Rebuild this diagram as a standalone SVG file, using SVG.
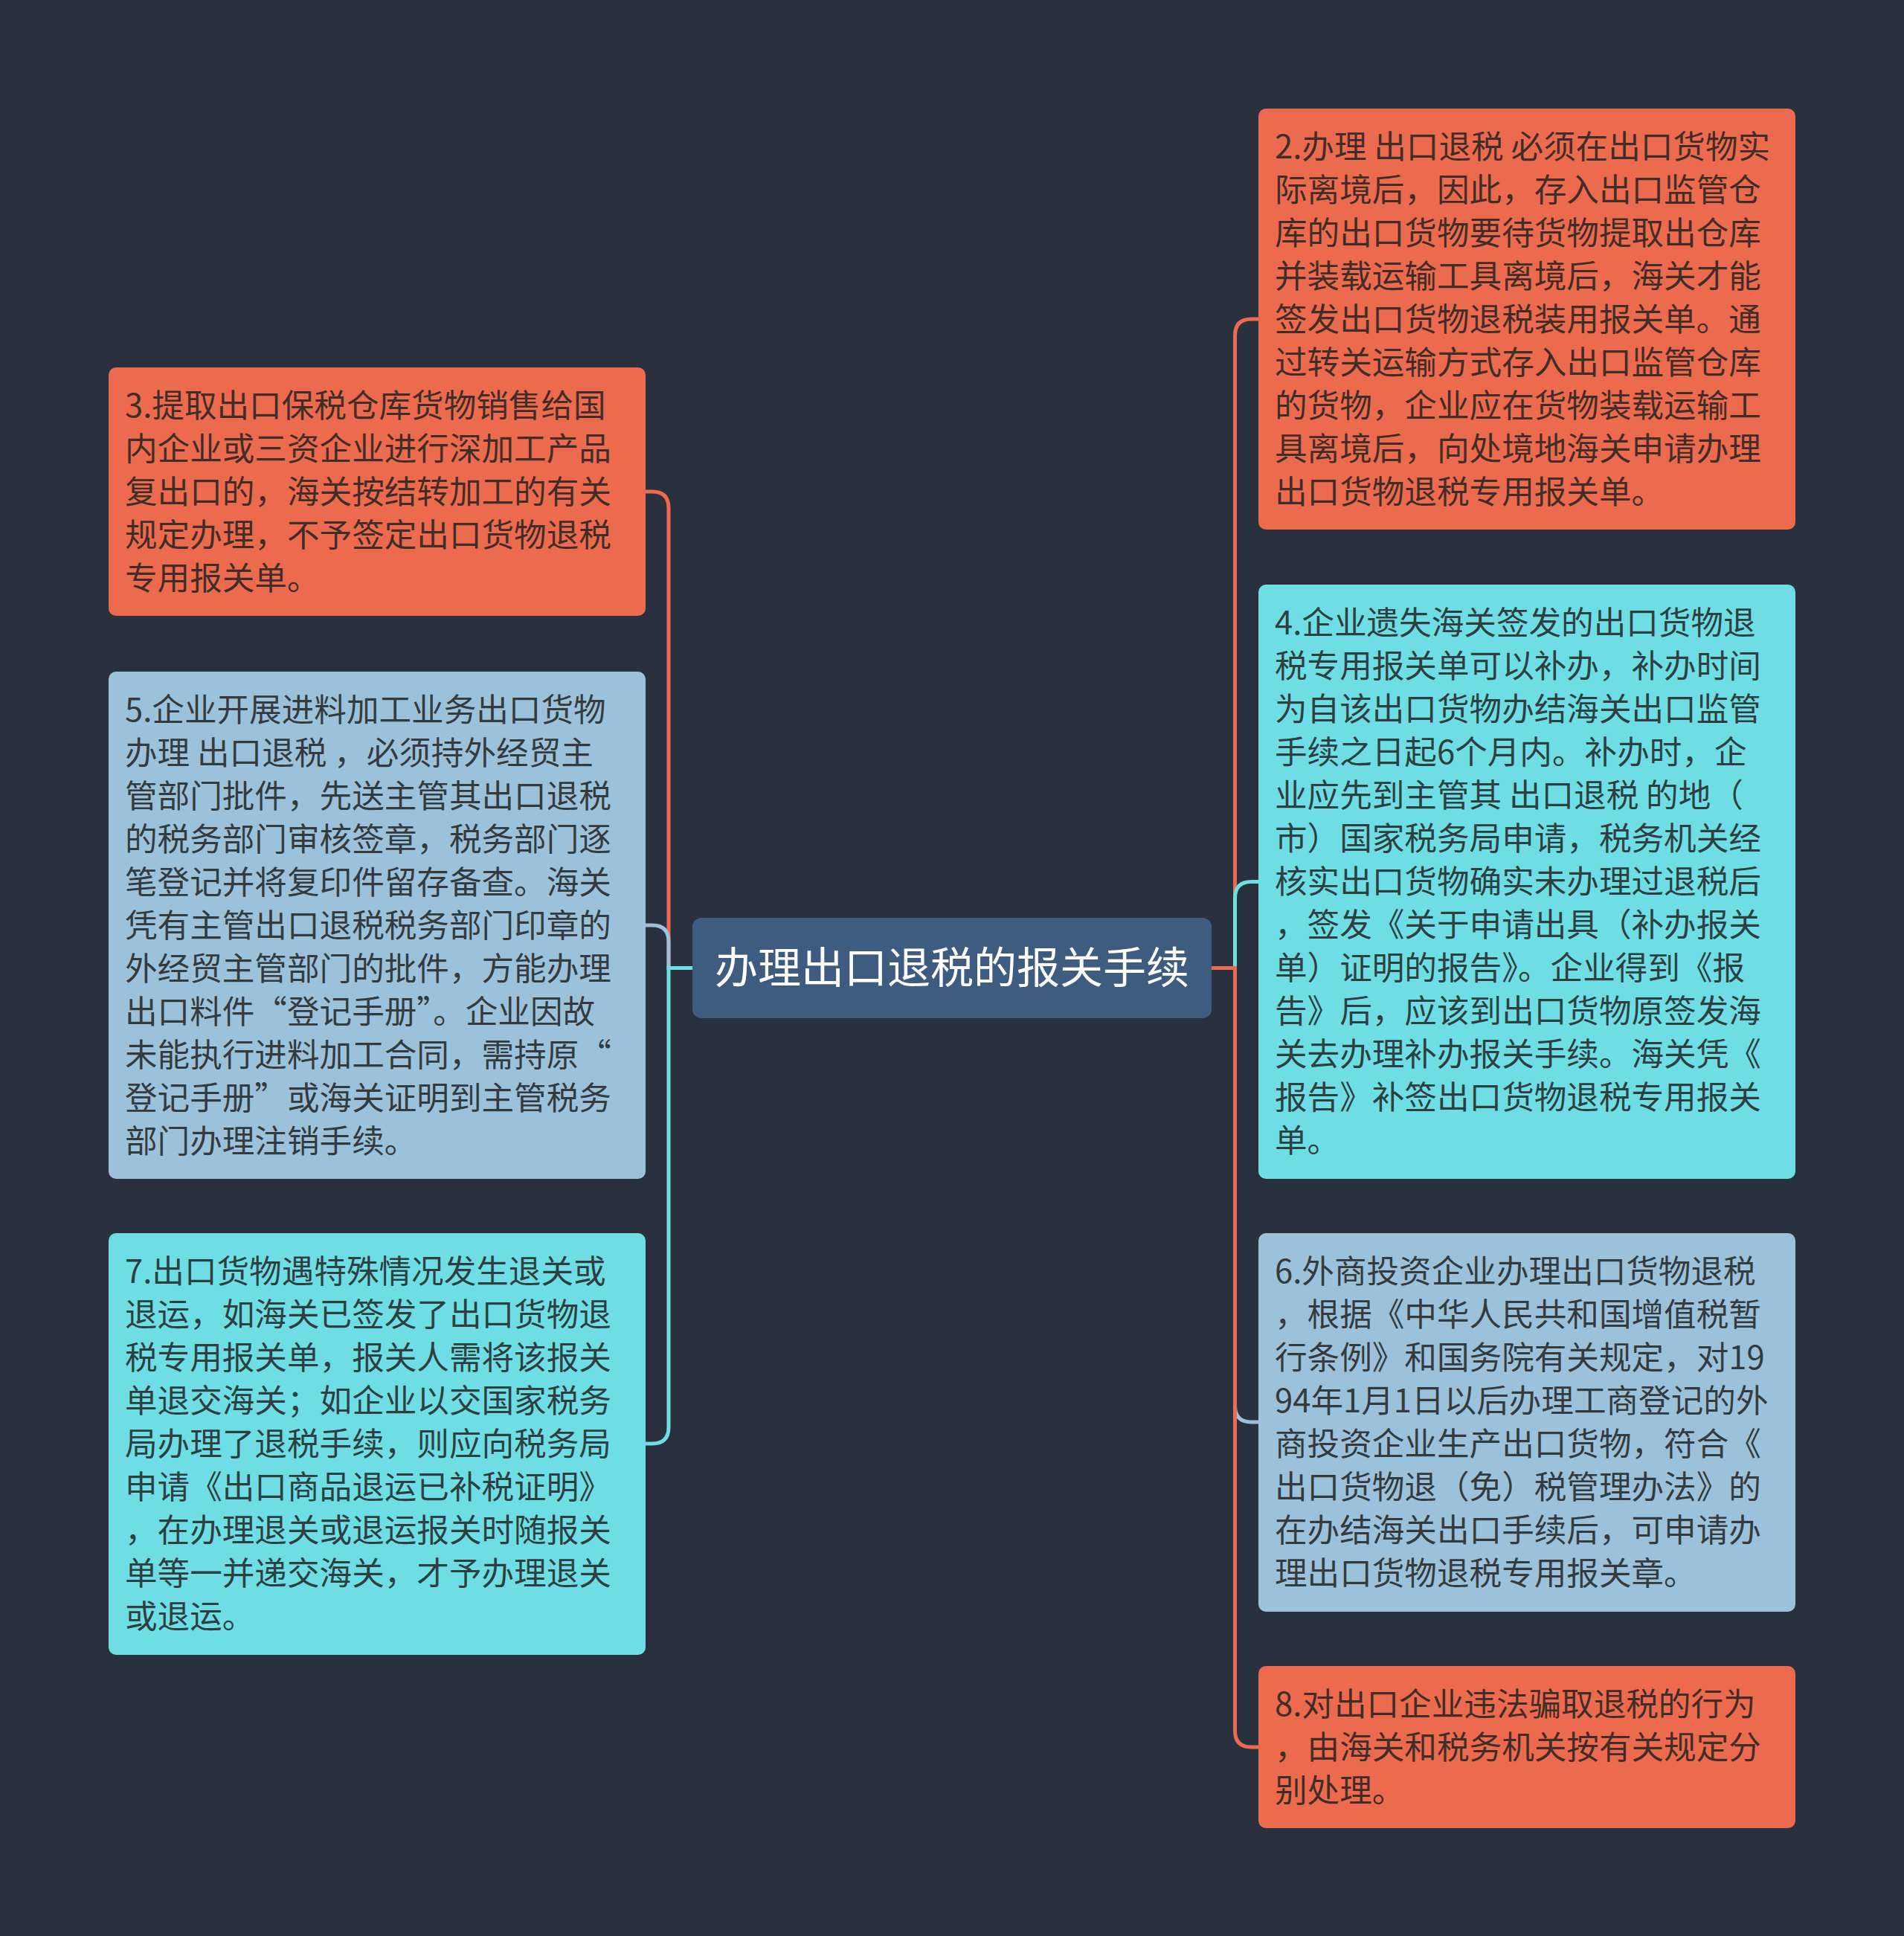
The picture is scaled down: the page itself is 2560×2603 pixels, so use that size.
<svg xmlns="http://www.w3.org/2000/svg" width="2560" height="2603" viewBox="0 0 2560 2603">
<style>
.bg{fill:#29303e}
.t{font-family:"Noto Sans CJK SC","Noto Sans",sans-serif;font-size:43.6px;fill:#222;fill-opacity:.86}
.ct{font-family:"Noto Sans CJK SC","Noto Sans",sans-serif;font-size:58px;fill:#ffffff}
.or{fill:#ec6a4d}.cy{fill:#6edee4}.lb{fill:#9bc2da}.cn{fill:#3e5b80}
.ln{fill:none;stroke-width:5}
.lo{stroke:#ec6a4d}.lc{stroke:#6edee4}.ll{stroke:#9bc2da}
</style>
<rect class="bg" x="0" y="0" width="2560" height="2603"/>
<g id="connectors">
<path class="ln lo" d="M1629 1301.5 H1660.5 V451 Q1660.5 429 1682.5 429 H1694"/>
<path class="ln lc" d="M1629 1301.5 H1660.5 V1207.5 Q1660.5 1185.5 1682.5 1185.5 H1694"/>
<path class="ln ll" d="M1629 1301.5 H1660.5 V1890 Q1660.5 1912 1682.5 1912 H1694"/>
<path class="ln lo" d="M1629 1301.5 H1660.5 V2327 Q1660.5 2349 1682.5 2349 H1694"/>
<path class="ln lo" d="M931 1301.5 H899 V683 Q899 661 877 661 H866"/>
<path class="ln ll" d="M931 1301.5 H899 V1266 Q899 1244 877 1244 H866"/>
<path class="ln lc" d="M931 1301.5 H899 V1919 Q899 1941 877 1941 H866"/>
</g>
<g id="center">
<rect class="cn" x="931" y="1234" width="698" height="135" rx="12"/>
<text class="ct" x="1280" y="1322" text-anchor="middle">办理出口退税的报关手续</text>
</g>
<g id="node2">
<rect class="or" x="1692" y="146" width="722" height="566" rx="10"/>
<text class="t" x="1714" y="213">
<tspan x="1714" dy="0">2.办理 出口退税 必须在出口货物实</tspan>
<tspan x="1714" dy="58">际离境后，因此，存入出口监管仓</tspan>
<tspan x="1714" dy="58">库的出口货物要待货物提取出仓库</tspan>
<tspan x="1714" dy="58">并装载运输工具离境后，海关才能</tspan>
<tspan x="1714" dy="58">签发出口货物退税装用报关单。通</tspan>
<tspan x="1714" dy="58">过转关运输方式存入出口监管仓库</tspan>
<tspan x="1714" dy="58">的货物，企业应在货物装载运输工</tspan>
<tspan x="1714" dy="58">具离境后，向处境地海关申请办理</tspan>
<tspan x="1714" dy="58">出口货物退税专用报关单。</tspan>
</text>
</g>
<g id="node4">
<rect class="cy" x="1692" y="786" width="722" height="799" rx="10"/>
<text class="t" x="1714" y="853">
<tspan x="1714" dy="0">4.企业遗失海关签发的出口货物退</tspan>
<tspan x="1714" dy="58">税专用报关单可以补办，补办时间</tspan>
<tspan x="1714" dy="58">为自该出口货物办结海关出口监管</tspan>
<tspan x="1714" dy="58">手续之日起6个月内。补办时，企</tspan>
<tspan x="1714" dy="58">业应先到主管其 出口退税 的地（</tspan>
<tspan x="1714" dy="58">市）国家税务局申请，税务机关经</tspan>
<tspan x="1714" dy="58">核实出口货物确实未办理过退税后</tspan>
<tspan x="1714" dy="58">，签发《关于申请出具（补办报关</tspan>
<tspan x="1714" dy="58">单）证明的报告》。企业得到《报</tspan>
<tspan x="1714" dy="58">告》后，应该到出口货物原签发海</tspan>
<tspan x="1714" dy="58">关去办理补办报关手续。海关凭《</tspan>
<tspan x="1714" dy="58">报告》补签出口货物退税专用报关</tspan>
<tspan x="1714" dy="58">单。</tspan>
</text>
</g>
<g id="node6">
<rect class="lb" x="1692" y="1658" width="722" height="509" rx="10"/>
<text class="t" x="1714" y="1725">
<tspan x="1714" dy="0">6.外商投资企业办理出口货物退税</tspan>
<tspan x="1714" dy="58">，根据《中华人民共和国增值税暂</tspan>
<tspan x="1714" dy="58">行条例》和国务院有关规定，对19</tspan>
<tspan x="1714" dy="58">94年1月1日以后办理工商登记的外</tspan>
<tspan x="1714" dy="58">商投资企业生产出口货物，符合《</tspan>
<tspan x="1714" dy="58">出口货物退（免）税管理办法》的</tspan>
<tspan x="1714" dy="58">在办结海关出口手续后，可申请办</tspan>
<tspan x="1714" dy="58">理出口货物退税专用报关章。</tspan>
</text>
</g>
<g id="node8">
<rect class="or" x="1692" y="2240" width="722" height="218" rx="10"/>
<text class="t" x="1714" y="2307">
<tspan x="1714" dy="0">8.对出口企业违法骗取退税的行为</tspan>
<tspan x="1714" dy="58">，由海关和税务机关按有关规定分</tspan>
<tspan x="1714" dy="58">别处理。</tspan>
</text>
</g>
<g id="node3">
<rect class="or" x="146" y="494" width="722" height="334" rx="10"/>
<text class="t" x="168" y="561">
<tspan x="168" dy="0">3.提取出口保税仓库货物销售给国</tspan>
<tspan x="168" dy="58">内企业或三资企业进行深加工产品</tspan>
<tspan x="168" dy="58">复出口的，海关按结转加工的有关</tspan>
<tspan x="168" dy="58">规定办理，不予签定出口货物退税</tspan>
<tspan x="168" dy="58">专用报关单。</tspan>
</text>
</g>
<g id="node5">
<rect class="lb" x="146" y="903" width="722" height="682" rx="10"/>
<text class="t" x="168" y="970">
<tspan x="168" dy="0">5.企业开展进料加工业务出口货物</tspan>
<tspan x="168" dy="58">办理 出口退税 ，必须持外经贸主</tspan>
<tspan x="168" dy="58">管部门批件，先送主管其出口退税</tspan>
<tspan x="168" dy="58">的税务部门审核签章，税务部门逐</tspan>
<tspan x="168" dy="58">笔登记并将复印件留存备查。海关</tspan>
<tspan x="168" dy="58">凭有主管出口退税税务部门印章的</tspan>
<tspan x="168" dy="58">外经贸主管部门的批件，方能办理</tspan>
<tspan x="168" dy="58">出口料件“登记手册”。企业因故</tspan>
<tspan x="168" dy="58">未能执行进料加工合同，需持原“</tspan>
<tspan x="168" dy="58">登记手册”或海关证明到主管税务</tspan>
<tspan x="168" dy="58">部门办理注销手续。</tspan>
</text>
</g>
<g id="node7">
<rect class="cy" x="146" y="1658" width="722" height="567" rx="10"/>
<text class="t" x="168" y="1725">
<tspan x="168" dy="0">7.出口货物遇特殊情况发生退关或</tspan>
<tspan x="168" dy="58">退运，如海关已签发了出口货物退</tspan>
<tspan x="168" dy="58">税专用报关单，报关人需将该报关</tspan>
<tspan x="168" dy="58">单退交海关；如企业以交国家税务</tspan>
<tspan x="168" dy="58">局办理了退税手续，则应向税务局</tspan>
<tspan x="168" dy="58">申请《出口商品退运已补税证明》</tspan>
<tspan x="168" dy="58">，在办理退关或退运报关时随报关</tspan>
<tspan x="168" dy="58">单等一并递交海关，才予办理退关</tspan>
<tspan x="168" dy="58">或退运。</tspan>
</text>
</g>
</svg>
